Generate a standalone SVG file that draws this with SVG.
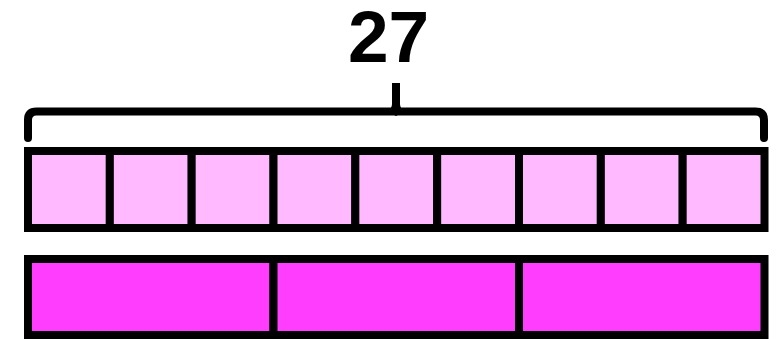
<svg xmlns="http://www.w3.org/2000/svg" width="782" height="339" viewBox="0 0 782 339">
<style>
.cell{stroke:#000;stroke-width:8;}
.light{fill:#FFBAFF;}
.dark{fill:#FF3DFF;}
.brace{fill:none;stroke:#000;stroke-width:8;stroke-linecap:round;stroke-linejoin:round;}
.lbl{font-family:"Liberation Sans",Arial,sans-serif;font-weight:bold;font-size:73px;fill:#000;}
</style>
<rect width="782" height="339" fill="#fff"/>
<g id="label">
<text class="lbl" x="388.5" y="62" text-anchor="middle">27</text>
</g>
<g id="brace">
<path class="brace" d="M28,138 V120 Q28,111.5 36.5,111.5 H755.5 Q764,111.5 764,120 V138"/>
<path d="M392,83 H400 V104 Q400,109 405,111 L396,116 L387,111 Q392,109 392,104 Z" fill="#000"/>
</g>
<g id="top-bar">
<rect class="cell light" x="28" y="151" width="81.83" height="77"/>
<rect class="cell light" x="109.83" y="151" width="81.83" height="77"/>
<rect class="cell light" x="191.67" y="151" width="81.83" height="77"/>
<rect class="cell light" x="273.5" y="151" width="81.83" height="77"/>
<rect class="cell light" x="355.33" y="151" width="81.83" height="77"/>
<rect class="cell light" x="437.17" y="151" width="81.83" height="77"/>
<rect class="cell light" x="519" y="151" width="81.83" height="77"/>
<rect class="cell light" x="600.83" y="151" width="81.83" height="77"/>
<rect class="cell light" x="682.67" y="151" width="81.83" height="77"/>
</g>
<g id="bottom-bar">
<rect class="cell dark" x="28" y="259" width="245.5" height="76"/>
<rect class="cell dark" x="273.5" y="259" width="245.5" height="76"/>
<rect class="cell dark" x="519" y="259" width="245.5" height="76"/>
</g>
</svg>
